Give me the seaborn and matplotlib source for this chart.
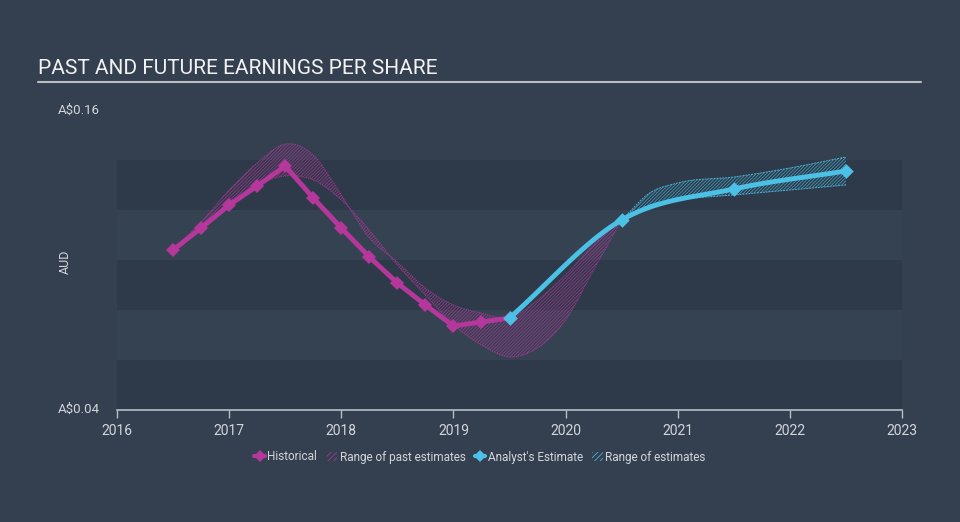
import numpy as np
import pandas as pd
import matplotlib
matplotlib.use("Agg")
import matplotlib.pyplot as plt
from matplotlib.lines import Line2D
from matplotlib.patches import Patch
import seaborn as sns

# historical EPS (quarterly, A$)
hist_x = [2016.5, 2016.75, 2017.0, 2017.25, 2017.5, 2017.75, 2018.0, 2018.25,
          2018.5, 2018.75, 2019.0, 2019.25, 2019.5]
hist_y = [0.104, 0.1128, 0.122, 0.1296, 0.1376, 0.1248, 0.1128, 0.1012,
          0.0908, 0.082, 0.0736, 0.0752, 0.0768]

# range of past estimates (two edges of the band)
past_x = [2016.5, 2016.75, 2017.0, 2017.25, 2017.5, 2017.75, 2018.0, 2018.25,
          2018.5, 2018.75, 2019.0, 2019.25, 2019.5, 2019.75, 2020.0, 2020.25, 2020.5]
past_a = [0.104, 0.1152, 0.128, 0.1388, 0.1464, 0.142, 0.126, 0.1088,
          0.0992, 0.0888, 0.082, 0.0788, 0.0768, 0.084, 0.094, 0.106, 0.116]
past_b = [0.104, 0.1128, 0.1232, 0.130, 0.1336, 0.132, 0.124, 0.112,
          0.098, 0.086, 0.074, 0.066, 0.0612, 0.0648, 0.076, 0.096, 0.116]

# analyst estimates
est_x = [2019.5, 2020.5, 2021.5, 2022.5]
est_y = [0.0768, 0.116, 0.1284, 0.1356]

# range of estimates
rng_x = [2020.5, 2020.75, 2021.0, 2021.5, 2022.0, 2022.5]
rng_hi = [0.116, 0.1268, 0.1308, 0.1332, 0.1368, 0.1412]
rng_lo = [0.116, 0.122, 0.124, 0.126, 0.128, 0.130]

years = list(range(2016, 2024))

BG = "#344050"
DARK = "#2e3a49"
LIGHT = "#354252"
PINK = "#b5379c"
CYAN = "#4cc1e6"
TXT = "#d2d6db"


def smooth(x, y, n=30):
    # cubic hermite through the points, for drawing only
    x = np.asarray(x, float)
    y = np.asarray(y, float)
    m = np.gradient(y, x)
    xs, ys = [], []
    for i in range(len(x) - 1):
        h = x[i + 1] - x[i]
        t = np.linspace(0, 1, n, endpoint=False)
        h00 = 2 * t**3 - 3 * t**2 + 1
        h10 = t**3 - 2 * t**2 + t
        h01 = -2 * t**3 + 3 * t**2
        h11 = t**3 - t**2
        xs.append(x[i] + t * h)
        ys.append(h00 * y[i] + h10 * h * m[i] + h01 * y[i + 1] + h11 * h * m[i + 1])
    xs.append([x[-1]])
    ys.append([y[-1]])
    return np.concatenate(xs), np.concatenate(ys)


sns.set_theme(style="dark")
plt.rcParams["font.family"] = ["Roboto", "DejaVu Sans"]
plt.rcParams["hatch.linewidth"] = 0.5

fig = plt.figure(figsize=(9.6, 5.22), dpi=100, facecolor=BG)
ax = fig.add_axes([117 / 960, 1 - 410 / 522, 785 / 960, 300 / 522])
ax.set_facecolor(BG)

# background bands
for k, lo in enumerate(np.arange(0.04, 0.14, 0.02)):
    ax.axhspan(lo, lo + 0.02, color=DARK if k % 2 == 0 else LIGHT, lw=0, zorder=0)

# past estimate range
sx, sa = smooth(past_x, past_a)
_, sb = smooth(past_x, past_b)
ax.fill_between(sx, sa, sb, facecolor="none", edgecolor=PINK, hatch="//////////",
                lw=0, alpha=0.85, zorder=1)
ax.plot(sx, sa, color=PINK, lw=0.7, ls=(0, (1, 1)), alpha=0.9, zorder=1)
ax.plot(sx, sb, color=PINK, lw=0.7, ls=(0, (1, 1)), alpha=0.9, zorder=1)

# future estimate range
rx, rh = smooth(rng_x, rng_hi)
_, rl = smooth(rng_x, rng_lo)
ax.fill_between(rx, rh, rl, facecolor="none", edgecolor=CYAN, hatch="//////////",
                lw=0, alpha=0.8, zorder=1)
ax.plot(rx, rh, color=CYAN, lw=0.7, ls=(0, (2, 1)), alpha=0.9, zorder=1)
ax.plot(rx, rl, color=CYAN, lw=0.7, ls=(0, (2, 1)), alpha=0.9, zorder=1)

# historical line
hist = pd.DataFrame({"year": hist_x, "eps": hist_y})
sns.lineplot(data=hist, x="year", y="eps", ax=ax, color=PINK, lw=3.5,
             marker="D", markersize=7, markeredgewidth=0, zorder=3)

# analyst estimate line
ex, ey = smooth(est_x, est_y)
sns.lineplot(x=ex, y=ey, ax=ax, color=CYAN, lw=3.5, zorder=4, sort=False)
est = pd.DataFrame({"year": est_x, "eps": est_y})
sns.scatterplot(data=est, x="year", y="eps", ax=ax, color=CYAN, marker="D",
                s=55, linewidth=0, zorder=5)

ax.set_xlim(2016, 2023)
ax.set_ylim(0.04, 0.16)
ax.set_xticks(years)
ax.set_xticklabels([str(y) for y in years], color=TXT, fontsize=10)
ax.set_yticks([])
ax.set_xlabel("")
ax.set_ylabel("")
for s in ["top", "right", "left"]:
    ax.spines[s].set_visible(False)
ax.spines["bottom"].set_color("#b8bec6")
ax.spines["bottom"].set_linewidth(1.2)
ax.tick_params(axis="x", colors="#b8bec6", length=6, width=1, pad=4,
               labelcolor=TXT, bottom=True)

# y labels
fig.text(100 / 960, 1 - 110 / 522, "A$0.16", ha="right", va="center",
         color=TXT, fontsize=9.5)
fig.text(100 / 960, 1 - 409 / 522, "A$0.04", ha="right", va="center",
         color=TXT, fontsize=9.5)
fig.text(65 / 960, 1 - 262 / 522, "AUD", ha="center", va="center",
         rotation=90, color=TXT, fontsize=9)

# title with underline
fig.text(38 / 960, 1 - 68 / 522, "PAST AND FUTURE EARNINGS PER SHARE",
         ha="left", va="center", color="#f2f2f2", fontsize=15)
fig.add_artist(Line2D([38 / 960, 921 / 960], [1 - 82 / 522, 1 - 82 / 522],
                      color="#b9bec5", lw=1.5))

handles = [
    Line2D([0], [0], color=PINK, lw=3, marker="D", markersize=6, markeredgewidth=0),
    Patch(facecolor="none", edgecolor=PINK, hatch="//////", lw=0),
    Line2D([0], [0], color=CYAN, lw=3, marker="D", markersize=6, markeredgewidth=0),
    Patch(facecolor="none", edgecolor=CYAN, hatch="//////", lw=0),
]
labels = ["Historical", "Range of past estimates", "Analyst's Estimate", "Range of estimates"]
leg = fig.legend(handles, labels, loc="center", ncol=4, frameon=False,
                 bbox_to_anchor=(0.5, 1 - 457 / 522), fontsize=8.5,
                 handlelength=0.9, handletextpad=0.2, columnspacing=0.8,
                 handleheight=0.8)
for t in leg.get_texts():
    t.set_color(TXT)

fig.savefig("out.png", dpi=100, facecolor=BG)
